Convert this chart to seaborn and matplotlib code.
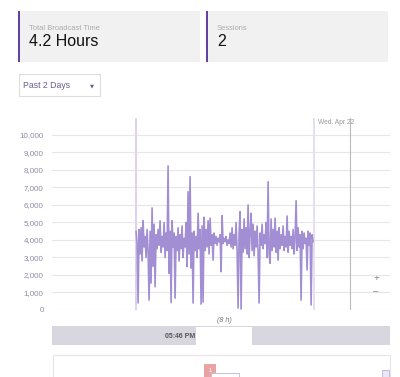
import numpy as np
import matplotlib
matplotlib.use("Agg")
import matplotlib.pyplot as plt
from matplotlib.patches import Rectangle
from matplotlib.ticker import FuncFormatter
import seaborn as sns

# Card values
card_titles = ["Total Broadcast Time", "Sessions"]
card_values = ["4.2 Hours", "2"]
range_label = "Past 2 Days"

# Viewer series (one sample every ~1.42 min)
viewers = [
    4500, 3800, 400, 4600, 3200, 4700, 2800, 5100, 3600, 4200,
    3000, 4600, 3400, 570, 4500, 1540, 5830, 2500, 4900, 1330,
    4300, 3500, 4600, 3700, 5100, 3300, 4200, 3600, 5000, 3000,
    4400, 3400, 8230, 2100, 4500, 420, 5100, 3600, 4400, 680,
    4200, 3400, 4700, 2800, 4300, 3500, 4800, 3000, 4100, 3600,
    5000, 2480, 6760, 3200, 7620, 2400, 4400, 400, 4500, 3400,
    4200, 3000, 5530, 3500, 4600, 340, 4800, 450, 5300, 3400,
    4600, 3600, 5100, 3200, 5250, 3700, 4300, 2850, 4400, 3800,
    4200, 3700, 4100, 3900, 4300, 2190, 5390, 3800, 4100, 3900,
    4200, 3700, 4000, 3800, 4400, 3600, 4700, 3500, 4300, 3700,
    5000, 3400, 110, 4400, 5620, 60, 4600, 3300, 5200, 3500,
    4700, 3200, 6000, 3000, 4400, 5530, 3400, 4900, 3100, 4500,
    3600, 4800, 3300, 400, 4400, 3700, 4900, 3500, 4300, 3800,
    5000, 3000, 7330, 3200, 2670, 5200, 3400, 4600, 3600, 5250,
    3300, 4500, 2850, 4700, 3500, 4300, 3700, 4800, 3400, 4200,
    3600, 5370, 3300, 4500, 3700, 4200, 3500, 4600, 3200, 4100,
    6250, 3400, 4700, 3600, 4300, 570, 4500, 3500, 4400, 3800,
    4100, 2290, 4500, 3700, 4400, 290, 4300, 3900,
]
stream_start_h = 1.99
sample_step_h = 4.19 / 177
stream_end_h = 6.20
midnight_h = 7.05
window_h = 8
y_ticks = list(range(0, 10001, 1000))

times = stream_start_h + np.arange(len(viewers)) * sample_step_h

sns.set_style("white")
plt.rcParams["font.family"] = ["Liberation Sans", "DejaVu Sans"]

W, H = 400, 377
fig = plt.figure(figsize=(W / 100, H / 100), dpi=100)

# page layer in pixel coordinates
page = fig.add_axes([0, 0, 1, 1])
page.set_xlim(0, W)
page.set_ylim(H, 0)
page.axis("off")

# stat cards
for i, x0 in enumerate([18, 206]):
    page.add_patch(Rectangle((x0, 11), 182, 51, color="#f1f1f1", lw=0))
    page.add_patch(Rectangle((x0, 11), 2, 51, color="#6441a4", lw=0))
    page.text(x0 + 11, 28, card_titles[i], fontsize=5.4, color="#aaaaaa", va="center")
    page.text(x0 + 11, 42, card_values[i], fontsize=11.5, color="#111111", va="center")

# dropdown
page.add_patch(Rectangle((18.5, 73.5), 81, 22, facecolor="white", edgecolor="#dddddd", lw=0.8))
page.text(23, 86, range_label, fontsize=6.3, color="#6b5b8e", va="center")
page.text(92, 85.5, "\u25bc", fontsize=3.8, color="#6b5b8e", va="center", ha="center",
          family=["DejaVu Sans"])

# chart
ax = fig.add_axes([52 / W, (H - 310) / H, 338 / W, 192 / H])
ax.axvspan(stream_start_h - 0.025, stream_start_h + 0.025, color="#ddd2ee", lw=0)
ax.axvspan(stream_end_h - 0.03, stream_end_h + 0.03, color="#e6def3", lw=0)
ax.axvline(midnight_h, color="#bbbbbb", lw=0.8)
sns.lineplot(x=times, y=viewers, ax=ax, color="#a28fd3", lw=1.2)
ax.set_xlim(0, window_h)
ax.set_ylim(0, 10970)
ax.set_yticks(y_ticks)
ax.yaxis.set_major_formatter(FuncFormatter(lambda v, p: f"{int(v):,}"))
ax.set_xticks([])
ax.grid(axis="y", color="#e6e6e6", lw=0.8)
ax.set_axisbelow(True)
ax.tick_params(axis="y", length=0, pad=6, labelsize=5.8, labelcolor="#8f89a3")
for s in ax.spines.values():
    s.set_visible(False)
ax.patch.set_alpha(0)

page.text(318, 122, "Wed. Apr 22", fontsize=4.8, color="#999999", va="center")
page.text(376, 278, "+", fontsize=7, color="#888888", va="center", ha="center")
page.text(376, 291, "\u2013", fontsize=7, color="#888888", va="center", ha="center")

# range selector
page.text(224, 320, "(8 h)", fontsize=5.2, color="#777777", style="italic", va="center", ha="center")
page.add_patch(Rectangle((52, 326), 338, 19, color="#d8d6de", lw=0))
page.add_patch(Rectangle((196, 327), 56, 18, color="white", lw=0))
page.text(195, 336, "05:46 PM", fontsize=5, color="#555555", weight="bold", va="center", ha="right")

# lower panel
page.add_patch(Rectangle((52.5, 354.5), 337, 30, facecolor="white", edgecolor="#e4e4e4", lw=0.8))
page.add_patch(Rectangle((204, 364), 12, 14, color="#eaa3a3", lw=0))
page.text(210, 370, "1", fontsize=4, color="white", ha="center", va="center")
page.add_patch(Rectangle((211, 373), 28, 8, facecolor="white", edgecolor="#c9bfe0", lw=0.8))
page.add_patch(Rectangle((382, 370), 7, 10, facecolor="#ece6f6", edgecolor="#c9bfe0", lw=0.8))

fig.savefig("out.png", dpi=100)
